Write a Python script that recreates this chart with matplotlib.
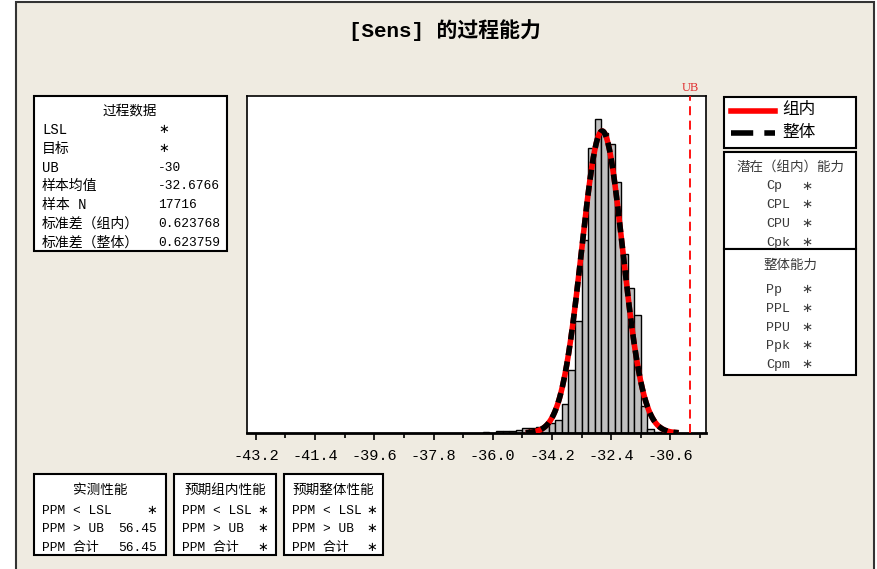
import numpy as np
import matplotlib
matplotlib.use("Agg")
import matplotlib.pyplot as plt
from matplotlib.patches import Rectangle
from matplotlib.lines import Line2D
from matplotlib.transforms import blended_transform_factory

W, H = 878, 569
OUT = "out.png"

MONO = ["Liberation Mono", "Noto Sans CJK SC", "DejaVu Sans"]
CJK = ["Noto Sans CJK SC", "DejaVu Sans"]

TITLE = "[Sens] 的过程能力"

# process stats
N = 17716
MEAN = -32.6766
SD_WITHIN = 0.623768
SD_OVERALL = 0.623759
UB = -30
BIN_WIDTH = 0.2
CURVE_START, CURVE_END = -35.0, -30.35

# histogram (bin midpoints and counts)
bin_mids = [-36.2, -36.0, -35.8, -35.6, -35.4, -35.2, -35.0, -34.8, -34.6, -34.4,
            -34.2, -34.0, -33.8, -33.6, -33.4, -33.2, -33.0, -32.8, -32.6, -32.4,
            -32.2, -32.0, -31.8, -31.6, -31.4, -31.2, -31.0, -30.8]
counts = [5, 3, 15, 15, 15, 25, 40, 40, 45, 50,
          75, 100, 215, 471, 841, 1447, 2141, 2354, 2249, 2166,
          1886, 1347, 1089, 884, 205, 30, 5, 2]

major_ticks = [-43.2, -41.4, -39.6, -37.8, -36.0, -34.2, -32.4, -30.6]
tick_labels = ["-43.2", "-41.4", "-39.6", "-37.8", "-36.0", "-34.2", "-32.4", "-30.6"]
minor_ticks = [-42.3, -40.5, -38.7, -36.9, -35.1, -33.3, -31.5, -29.7]

process_rows = [("LSL", "∗"), ("目标", "∗"), ("UB", "-30"), ("样本均值", "-32.6766"),
                ("样本 N", "17716"), ("标准差（组内）", "0.623768"),
                ("标准差（整体）", "0.623759")]
within_rows = ["Cp", "CPL", "CPU", "Cpk"]
overall_rows = ["Pp", "PPL", "PPU", "Ppk", "Cpm"]
ppm_labels = ["PPM < LSL", "PPM > UB", "PPM 合计"]
observed_vals = ["∗", "56.45", "56.45"]
exp_within_vals = ["∗", "∗", "∗"]
exp_overall_vals = ["∗", "∗", "∗"]


def fx(x):
    return x / W


def fy(y):
    return 1 - y / H


def box(fig, x0, y0, x1, y1, lw=1.5, face="white", edge="black"):
    fig.add_artist(Rectangle((fx(x0), fy(y1)), fx(x1) - fx(x0), fy(y0) - fy(y1),
                             transform=fig.transFigure, facecolor=face,
                             edgecolor=edge, linewidth=lw, zorder=1))


def txt(fig, x, y, s, size=9.3, ha="left", color="black", family=MONO, **kw):
    fig.text(fx(x), fy(y), s, ha=ha, va="center", fontsize=size, color=color,
             family=family, zorder=3, **kw)


def normal_curve(sd):
    xs = np.linspace(CURVE_START, CURVE_END, 300)
    ys = N * BIN_WIDTH * np.exp(-0.5 * ((xs - MEAN) / sd) ** 2) / (sd * np.sqrt(2 * np.pi))
    return xs, ys


def main():
    fig = plt.figure(figsize=(W / 100, H / 100), dpi=100)
    fig.patch.set_facecolor("white")

    # beige panel with frame
    fig.add_artist(Rectangle((fx(16), fy(571)), fx(874) - fx(16), fy(2) - fy(571),
                             transform=fig.transFigure, facecolor="#EFEBE1",
                             edgecolor="#333333", linewidth=1.5, zorder=0))

    txt(fig, 445, 30, TITLE, size=15, ha="center", weight="bold")

    ax = fig.add_axes([fx(247), fy(433), fx(706) - fx(247), fy(96) - fy(433)])
    ax.set_facecolor("white")
    ax.bar(bin_mids, counts, width=BIN_WIDTH, color="#C0C0C0", edgecolor="black",
           linewidth=1.0, zorder=2)

    xs, ys = normal_curve(SD_WITHIN)
    ax.plot(xs, ys, color="red", linewidth=4.0, zorder=3, solid_capstyle="butt")
    xs, ys = normal_curve(SD_OVERALL)
    ax.plot(xs, ys, color="black", linewidth=4.0, linestyle=(0, (1.8, 1.1)), zorder=4)

    ax.axvline(UB, color="red", linewidth=1.3, linestyle=(0, (5, 3)), zorder=5)
    trans = blended_transform_factory(ax.transData, ax.transAxes)
    ax.text(UB, 1.005, "UB", color="#E03030", ha="center", va="bottom",
            fontsize=9, family=["Liberation Serif", "DejaVu Serif"], transform=trans)

    ax.set_xlim(-43.47, -29.52)
    ax.set_ylim(0, 2529)
    ax.set_yticks([])
    ax.set_xticks(major_ticks, labels=tick_labels)
    ax.set_xticks(minor_ticks, minor=True)
    ax.tick_params(axis="x", which="major", length=5, width=1.2, pad=6.5,
                   labelsize=11)
    ax.tick_params(axis="x", which="minor", length=3.5, width=1.2)
    for lab in ax.get_xticklabels():
        lab.set_family(MONO)
    for s in ["left", "right", "top"]:
        ax.spines[s].set_linewidth(1.2)
    ax.spines["bottom"].set_linewidth(2.0)

    # process data box
    box(fig, 34, 96, 227, 251)
    txt(fig, 130, 110, "过程数据", ha="center", family=CJK, size=9.8)
    for i, (lab, val) in enumerate(process_rows):
        y = 130 + i * 18.8
        txt(fig, 42, y, lab, size=10)
        txt(fig, 158, y, val)

    # legend box
    box(fig, 724, 97, 856, 148)
    fig.add_artist(Line2D([fx(731), fx(775)], [fy(111), fy(111)], color="red",
                          linewidth=4, transform=fig.transFigure, zorder=3))
    fig.add_artist(Line2D([fx(731), fx(775)], [fy(133), fy(133)], color="black",
                          linewidth=4, linestyle=(0, (4, 2)), transform=fig.transFigure,
                          zorder=3))
    txt(fig, 782, 110, "组内", size=12, family=CJK)
    txt(fig, 782, 133, "整体", size=12, family=CJK)

    # capability boxes
    grey = "#3A3A3A"
    box(fig, 724, 152, 856, 249)
    box(fig, 724, 249, 856, 375)
    txt(fig, 790, 167, "潜在（组内）能力", ha="center", color=grey, family=CJK, size=9.7)
    for i, lab in enumerate(within_rows):
        y = 186.5 + i * 18.8
        txt(fig, 766, y, lab, color=grey, size=9.6)
        txt(fig, 807, y, "∗", ha="center", color=grey, size=9.6)
    txt(fig, 790, 265, "整体能力", ha="center", color=grey, family=CJK, size=9.7)
    for i, lab in enumerate(overall_rows):
        y = 290 + i * 18.8
        txt(fig, 766, y, lab, color=grey, size=9.6)
        txt(fig, 807, y, "∗", ha="center", color=grey, size=9.6)

    # bottom PPM boxes
    panels = [
        (34, 166, "实测性能", observed_vals, 157),
        (174, 276, "预期组内性能", exp_within_vals, 268),
        (284, 383, "预期整体性能", exp_overall_vals, 377),
    ]
    for x0, x1, title, vals, vx in panels:
        box(fig, x0, 474, x1, 555)
        txt(fig, (x0 + x1) / 2, 490, title, ha="center", family=CJK, size=9.8)
        for i, (lab, val) in enumerate(zip(ppm_labels, vals)):
            y = 510.5 + i * 18.6
            txt(fig, x0 + 8, y, lab)
            txt(fig, vx, y, val, ha="right")

    fig.savefig(OUT, dpi=100)
    plt.close(fig)


if __name__ == "__main__":
    main()
